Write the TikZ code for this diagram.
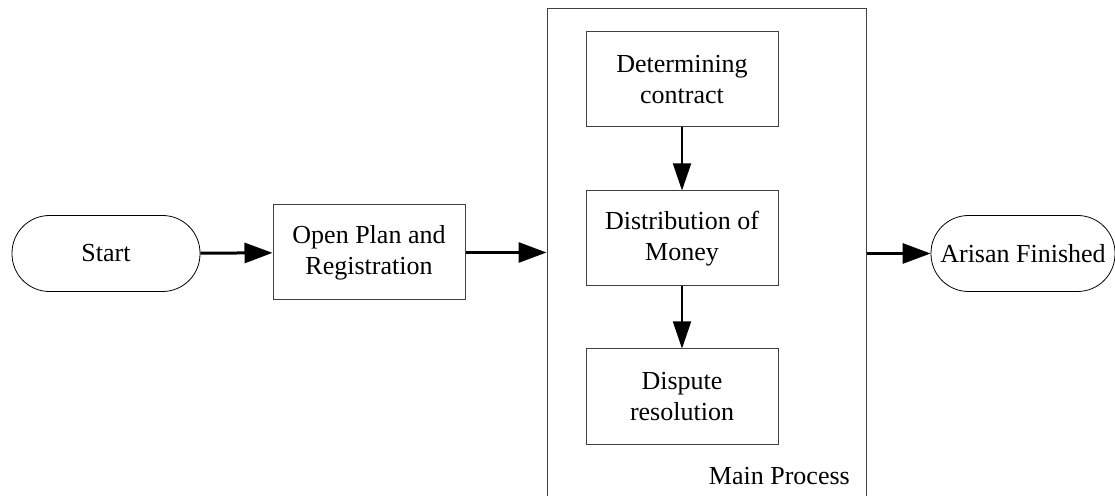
\documentclass[tikz,border=0pt]{standalone}
\usepackage{fontspec}
\setmainfont{Liberation Serif}
\usetikzlibrary{arrows.meta}
\begin{document}
\begin{tikzpicture}[x=1pt,y=1pt,
  every node/.style={font=\fontsize{26}{31}\selectfont, text=black},
  term/.style={draw=black, line width=0.8pt, rounded corners=37.5pt, minimum height=76pt, inner sep=0pt},
  procbox/.style={draw=black!75, line width=1pt, minimum width=192pt, minimum height=95pt, align=center, inner sep=0pt},
  frame/.style={draw=black!75, line width=1pt, minimum width=319pt, minimum height=497pt, inner sep=0pt},
  harrow/.style={line width=3pt, -{Triangle[length=28pt,width=20pt]}},
  varrow/.style={line width=1.8pt, -{Triangle[length=27pt,width=18pt]}}
]
\useasboundingbox (0,0) rectangle (1115,495);
\node[term, minimum width=188pt] (start) at (106,241.5) {Start};
\node[procbox] (open) at (369,242.5) {Open Plan and\\Registration};
\node[frame] (main) at (706.5,237.5) {};
\node[procbox] (det) at (682,415.5) {Determining\\contract};
\node[procbox] (dist) at (682,256.5) {Distribution of\\Money};
\node[procbox] (disp) at (682,98.5) {Dispute\\resolution};
\node[anchor=base east, inner sep=0pt] (mplabel) at (850,11) {Main Process};
\node[term, minimum width=184pt] (fin) at (1023,241.5) {Arisan Finished};
\draw[harrow] (start) -- (open);
\draw[harrow] (open.east) -- (open.east -| main.west);
\draw[harrow] (main.east |- fin.west) -- (fin.west);
\draw[varrow] (det) -- (dist);
\draw[varrow] (dist) -- (disp);
\end{tikzpicture}
\end{document}
